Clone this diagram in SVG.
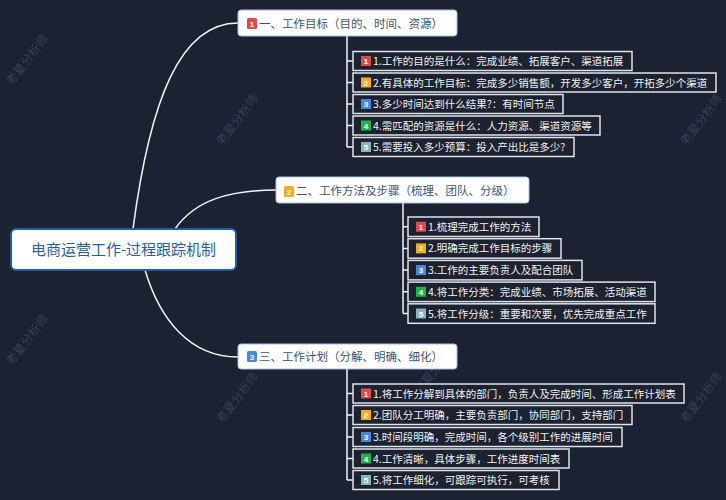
<svg xmlns="http://www.w3.org/2000/svg" width="726" height="500" viewBox="0 0 726 500">
<style>
.bg{fill:#1b2231}
.wm{font-family:"Noto Sans CJK SC","Noto Sans",sans-serif;font-size:12px;fill:#7a8aa3;opacity:0.28}
.conn{fill:none;stroke:#f2f4f7;stroke-width:1.5}
.center rect{fill:#ffffff;stroke:#1f5da6;stroke-width:2}
.center text{font-family:"Noto Sans CJK SC","Noto Sans",sans-serif;font-size:15px;fill:#2a5d9f;text-anchor:middle}
.branch rect.box{fill:#ffffff;stroke:#a7c0e0;stroke-width:1}
.branch text.lbl{font-family:"Noto Sans CJK SC","Noto Sans",sans-serif;font-size:11.5px;fill:#3d5470}
.leaf rect.box{fill:#1c2230;stroke:#dfe3ea;stroke-width:1.5}
.leaf text.lbl{font-family:"Noto Sans CJK SC","Noto Sans",sans-serif;font-size:10.5px;fill:#f2f2f2}
.num{font-family:"Liberation Sans",Arial,sans-serif;font-size:8px;font-weight:bold;fill:#ffffff;text-anchor:middle}
.b1{fill:#e04a4a}.b2{fill:#f2ac1c}.b3{fill:#4a86e0}.b4{fill:#20b548}.b5{fill:#8ab6ba}
</style>
<rect class="bg" x="0" y="0" width="726" height="500"/>
<g id="watermarks">
<text class="wm" transform="translate(12,86) rotate(-52)">老夏分析师</text>
<text class="wm" transform="translate(222,146) rotate(-52)">老夏分析师</text>
<text class="wm" transform="translate(420,118) rotate(-52)">老夏分析师</text>
<text class="wm" transform="translate(686,146) rotate(-52)">老夏分析师</text>
<text class="wm" transform="translate(12,366) rotate(-52)">老夏分析师</text>
<text class="wm" transform="translate(222,424) rotate(-52)">老夏分析师</text>
<text class="wm" transform="translate(420,395) rotate(-52)">老夏分析师</text>
<text class="wm" transform="translate(686,424) rotate(-52)">老夏分析师</text>
</g>
<g id="connectors">
<path class="conn" d="M133,229 C150,100 180,23 238,23"/>
<path class="conn" d="M175,229 C195,200 230,190 276,190"/>
<path class="conn" d="M145,270 C160,320 190,357 238,357"/>
<path class="conn" d="M347,36 V147 M347,61 H353 M347,82.5 H353 M347,104 H353 M347,125.5 H353 M347,147 H353"/>
<path class="conn" d="M403,203 V313.5 M403,226.7 H408 M403,248.4 H408 M403,270.1 H408 M403,291.8 H408 M403,313.5 H408"/>
<path class="conn" d="M347,369 V480 M347,393.5 H353 M347,415 H353 M347,437 H353 M347,458.5 H353 M347,480 H353"/>
</g>
<g id="center" class="center">
<rect x="11" y="229" width="225" height="41" rx="5"/>
<text x="123.5" y="255">电商运营工作-过程跟踪机制</text>
</g>
<g id="branch1" class="branch">
<rect class="box" x="238" y="10" width="219" height="26" rx="3"/>
<rect class="b1" x="247" y="18" width="10" height="11" rx="1.5"/><text class="num" x="252" y="26.5">1</text>
<text class="lbl" x="259" y="27.5">一、工作目标（目的、时间、资源）</text>
</g>
<g id="branch2" class="branch">
<rect class="box" x="276" y="177" width="253" height="26" rx="3"/>
<rect class="b2" x="284" y="186" width="10" height="11" rx="1.5"/><text class="num" x="289" y="194.5">2</text>
<text class="lbl" x="296" y="195">二、工作方法及步骤（梳理、团队、分级）</text>
</g>
<g id="branch3" class="branch">
<rect class="box" x="238" y="344" width="219" height="25" rx="3"/>
<rect class="b3" x="247" y="351" width="10" height="11" rx="1.5"/><text class="num" x="252" y="359.5">3</text>
<text class="lbl" x="259" y="361">三、工作计划（分解、明确、细化）</text>
</g>
<g id="leaf1-1" class="leaf"><rect class="box" x="353" y="51.5" width="279" height="19"/><rect class="b1" x="361" y="56" width="10" height="10"/><text class="num" x="366" y="64">1</text><text class="lbl" x="373" y="65">1.工作的目的是什么：完成业绩、拓展客户、渠道拓展</text></g>
<g id="leaf1-2" class="leaf"><rect class="box" x="353" y="73" width="363" height="19"/><rect class="b2" x="361" y="77.5" width="10" height="10"/><text class="num" x="366" y="85.5">2</text><text class="lbl" x="373" y="86.5">2.有具体的工作目标：完成多少销售额，开发多少客户，开拓多少个渠道</text></g>
<g id="leaf1-3" class="leaf"><rect class="box" x="353" y="94.5" width="210" height="19"/><rect class="b3" x="361" y="99" width="10" height="10"/><text class="num" x="366" y="107">3</text><text class="lbl" x="373" y="108">3.多少时间达到什么结果?：有时间节点</text></g>
<g id="leaf1-4" class="leaf"><rect class="box" x="353" y="116" width="247" height="19"/><rect class="b4" x="361" y="120.5" width="10" height="10"/><text class="num" x="366" y="128.5">4</text><text class="lbl" x="373" y="129.5">4.需匹配的资源是什么：人力资源、渠道资源等</text></g>
<g id="leaf1-5" class="leaf"><rect class="box" x="353" y="137.5" width="221" height="19"/><rect class="b5" x="361" y="142" width="10" height="10"/><text class="num" x="366" y="150">5</text><text class="lbl" x="373" y="151">5.需要投入多少预算：投入产出比是多少?</text></g>
<g id="leaf2-1" class="leaf"><rect class="box" x="408" y="217" width="131" height="19.5"/><rect class="b1" x="416" y="221.7" width="10" height="10"/><text class="num" x="421" y="229.7">1</text><text class="lbl" x="428" y="230.7">1.梳理完成工作的方法</text></g>
<g id="leaf2-2" class="leaf"><rect class="box" x="408" y="238.7" width="153" height="19.5"/><rect class="b2" x="416" y="243.4" width="10" height="10"/><text class="num" x="421" y="251.4">2</text><text class="lbl" x="428" y="252.4">2.明确完成工作目标的步骤</text></g>
<g id="leaf2-3" class="leaf"><rect class="box" x="408" y="260.4" width="174" height="19.5"/><rect class="b3" x="416" y="265.1" width="10" height="10"/><text class="num" x="421" y="273.1">3</text><text class="lbl" x="428" y="274.1">3.工作的主要负责人及配合团队</text></g>
<g id="leaf2-4" class="leaf"><rect class="box" x="408" y="282.1" width="247" height="19.5"/><rect class="b4" x="416" y="286.8" width="10" height="10"/><text class="num" x="421" y="294.8">4</text><text class="lbl" x="428" y="295.8">4.将工作分类：完成业绩、市场拓展、活动渠道</text></g>
<g id="leaf2-5" class="leaf"><rect class="box" x="408" y="303.8" width="247" height="19.5"/><rect class="b5" x="416" y="308.5" width="10" height="10"/><text class="num" x="421" y="316.5">5</text><text class="lbl" x="428" y="317.5">5.将工作分级：重要和次要，优先完成重点工作</text></g>
<g id="leaf3-1" class="leaf"><rect class="box" x="353" y="384" width="331" height="19"/><rect class="b1" x="361" y="388.5" width="10" height="10"/><text class="num" x="366" y="396.5">1</text><text class="lbl" x="373" y="397.5">1.将工作分解到具体的部门，负责人及完成时间、形成工作计划表</text></g>
<g id="leaf3-2" class="leaf"><rect class="box" x="353" y="405.5" width="279" height="19"/><rect class="b2" x="361" y="410" width="10" height="10"/><text class="num" x="366" y="418">2</text><text class="lbl" x="373" y="419">2.团队分工明确，主要负责部门，协同部门，支持部门</text></g>
<g id="leaf3-3" class="leaf"><rect class="box" x="353" y="427.5" width="269" height="19"/><rect class="b3" x="361" y="432" width="10" height="10"/><text class="num" x="366" y="440">3</text><text class="lbl" x="373" y="441">3.时间段明确，完成时间，各个级别工作的进展时间</text></g>
<g id="leaf3-4" class="leaf"><rect class="box" x="353" y="449" width="216" height="19"/><rect class="b4" x="361" y="453.5" width="10" height="10"/><text class="num" x="366" y="461.5">4</text><text class="lbl" x="373" y="462.5">4.工作清晰，具体步骤，工作进度时间表</text></g>
<g id="leaf3-5" class="leaf"><rect class="box" x="353" y="470.5" width="206" height="19"/><rect class="b5" x="361" y="475" width="10" height="10"/><text class="num" x="366" y="483">5</text><text class="lbl" x="373" y="484">5.将工作细化，可跟踪可执行，可考核</text></g>
</svg>
